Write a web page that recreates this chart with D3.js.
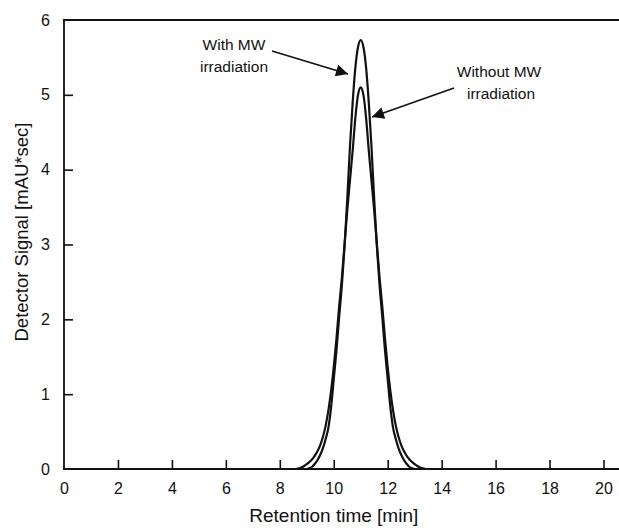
<!DOCTYPE html>
<html>
<head>
<meta charset="utf-8">
<script src="https://cdn.jsdelivr.net/npm/d3@7"></script>
<style>
  body { margin: 0; background: #fff; }
  text { font-family: "Liberation Sans", Arial, sans-serif; fill: #111; }
</style>
</head>
<body>
<div id="canvas"></div>
<script>
"use strict"

// DATA
let timeWith = [9.0, 9.1, 9.2, 9.3, 9.4, 9.5, 9.6, 9.7, 9.8, 9.9, 10.0, 10.1, 10.2, 10.3, 10.4, 10.5, 10.6, 10.7, 10.8, 10.9, 11.0,
  11.1, 11.2, 11.3, 11.4, 11.5, 11.6, 11.7, 11.8, 11.9, 12.0, 12.1, 12.2, 12.3, 12.4, 12.5, 12.6, 12.7, 12.8, 12.9, 13.0];
let signalWith = [0, 0.01, 0.03, 0.07, 0.12, 0.19, 0.28, 0.40, 0.55, 0.82, 1.20, 1.58, 2.03, 2.45, 2.97, 3.60, 4.30, 4.89, 5.36, 5.64, 5.73,
  5.64, 5.36, 4.89, 4.30, 3.60, 2.97, 2.45, 2.03, 1.58, 1.20, 0.82, 0.55, 0.40, 0.28, 0.19, 0.12, 0.07, 0.03, 0.01, 0];

let timeWithout = [8.6, 8.7, 8.8, 8.9, 9.0, 9.1, 9.2, 9.3, 9.4, 9.5, 9.6, 9.7, 9.8, 9.9, 10.0, 10.1, 10.2, 10.3, 10.4, 10.5, 10.6, 10.7, 10.8, 10.9, 11.0,
  11.1, 11.2, 11.3, 11.4, 11.5, 11.6, 11.7, 11.8, 11.9, 12.0, 12.1, 12.2, 12.3, 12.4, 12.5, 12.6, 12.7, 12.8, 12.9, 13.0, 13.1, 13.2, 13.3, 13.4];
let signalWithout = [0, 0.01, 0.02, 0.04, 0.065, 0.095, 0.13, 0.18, 0.24, 0.32, 0.43, 0.58, 0.78, 1.04, 1.36, 1.74, 2.17, 2.55, 3.00, 3.45, 3.85, 4.25, 4.69, 5.00, 5.10,
  5.00, 4.69, 4.25, 3.85, 3.45, 3.00, 2.55, 2.17, 1.74, 1.36, 1.04, 0.78, 0.58, 0.43, 0.32, 0.24, 0.18, 0.13, 0.095, 0.065, 0.04, 0.02, 0.01, 0];

let xTicks = [0, 2, 4, 6, 8, 10, 12, 14, 16, 18, 20];
let yTicks = [0, 1, 2, 3, 4, 5, 6];

// CANVAS
let svgWidth = 619;
let svgHeight = 528;

let marginLeft = 64;
let marginTop = 20;
let plotRight = 603.5;
let plotBottom = 469;

let svg = d3.select("#canvas")
  .append("svg")
  .attr("width", svgWidth)
  .attr("height", svgHeight);

svg.append("defs").append("marker")
  .attr("id", "head")
  .attr("viewBox", "0 0 10 10")
  .attr("refX", 10)
  .attr("refY", 5)
  .attr("markerUnits", "userSpaceOnUse")
  .attr("markerWidth", 17)
  .attr("markerHeight", 12)
  .attr("orient", "auto")
  .append("path")
  .attr("d", "M0,0 L10,5 L0,10 Z")
  .attr("fill", "#111");

// SCALES
let xScale = d3.scaleLinear()
  .domain([0, 20])
  .range([marginLeft, plotRight]);

let yScale = d3.scaleLinear()
  .domain([0, 6])
  .range([plotBottom, marginTop]);

// AXES (ticks point inward)
let xAxis = svg.append("g")
  .attr("transform", "translate(0," + plotBottom + ")")
  .call(d3.axisBottom(xScale).tickValues(xTicks).tickFormat(d3.format("d"))
    .tickSizeInner(-9).tickSizeOuter(0).tickPadding(14));

let yAxis = svg.append("g")
  .attr("transform", "translate(" + marginLeft + ",0)")
  .call(d3.axisLeft(yScale).tickValues(yTicks).tickFormat(d3.format("d"))
    .tickSizeInner(-9).tickSizeOuter(0).tickPadding(14));

xAxis.select(".domain").remove();
yAxis.select(".domain").remove();
xAxis.selectAll("line").attr("stroke", "#111").attr("stroke-width", 1.6);
yAxis.selectAll("line").attr("stroke", "#111").attr("stroke-width", 1.6);
xAxis.selectAll("text").style("font-size", "16px").attr("fill", "#111");
yAxis.selectAll("text").style("font-size", "16px").attr("fill", "#111");
yAxis.selectAll(".tick").filter(function (d) { return d == 0 || d == 6; }).select("line").remove();
xAxis.selectAll(".tick").filter(function (d) { return d == 0; }).select("line").remove();

// frame lines: left, top and bottom (top/bottom run to the edge)
svg.append("line")
  .attr("x1", marginLeft).attr("y1", marginTop)
  .attr("x2", marginLeft).attr("y2", plotBottom)
  .attr("stroke", "#111").attr("stroke-width", 1.8);
svg.append("line")
  .attr("x1", marginLeft - 1).attr("y1", marginTop)
  .attr("x2", svgWidth).attr("y2", marginTop)
  .attr("stroke", "#111").attr("stroke-width", 1.8);
svg.append("line")
  .attr("x1", marginLeft - 1).attr("y1", plotBottom)
  .attr("x2", svgWidth).attr("y2", plotBottom)
  .attr("stroke", "#111").attr("stroke-width", 1.8);

// CURVES
let line = d3.line()
  .x(function (d) { return xScale(d[0]); })
  .y(function (d) { return yScale(d[1]); })
  .curve(d3.curveMonotoneX);

svg.append("path")
  .datum(d3.zip(timeWithout, signalWithout))
  .attr("d", line)
  .attr("fill", "none")
  .attr("stroke", "#111")
  .attr("stroke-width", 2.2);

svg.append("path")
  .datum(d3.zip(timeWith, signalWith))
  .attr("d", line)
  .attr("fill", "none")
  .attr("stroke", "#111")
  .attr("stroke-width", 2.2);

// ANNOTATIONS
svg.append("text")
  .attr("x", 234).attr("y", 50)
  .style("text-anchor", "middle").style("font-size", "15.5px")
  .text("With MW");
svg.append("text")
  .attr("x", 234).attr("y", 72)
  .style("text-anchor", "middle").style("font-size", "15.5px")
  .text("irradiation");

svg.append("text")
  .attr("x", 499).attr("y", 77)
  .style("text-anchor", "middle").style("font-size", "15.5px")
  .text("Without MW");
svg.append("text")
  .attr("x", 501).attr("y", 99)
  .style("text-anchor", "middle").style("font-size", "15.5px")
  .text("irradiation");

svg.append("line")
  .attr("x1", 272).attr("y1", 51)
  .attr("x2", 348).attr("y2", 74)
  .attr("stroke", "#111").attr("stroke-width", 1.6)
  .attr("marker-end", "url(#head)");

svg.append("line")
  .attr("x1", 454).attr("y1", 88)
  .attr("x2", 372).attr("y2", 117)
  .attr("stroke", "#111").attr("stroke-width", 1.6)
  .attr("marker-end", "url(#head)");

// AXIS LABELS
svg.append("text")
  .attr("x", (marginLeft + plotRight) / 2)
  .attr("y", 522)
  .style("text-anchor", "middle")
  .style("font-size", "19px")
  .text("Retention time [min]");

svg.append("text")
  .attr("transform", "translate(28,232) rotate(-90)")
  .style("text-anchor", "middle")
  .style("font-size", "18.5px")
  .text("Detector Signal [mAU*sec]");
</script>
</body>
</html>
